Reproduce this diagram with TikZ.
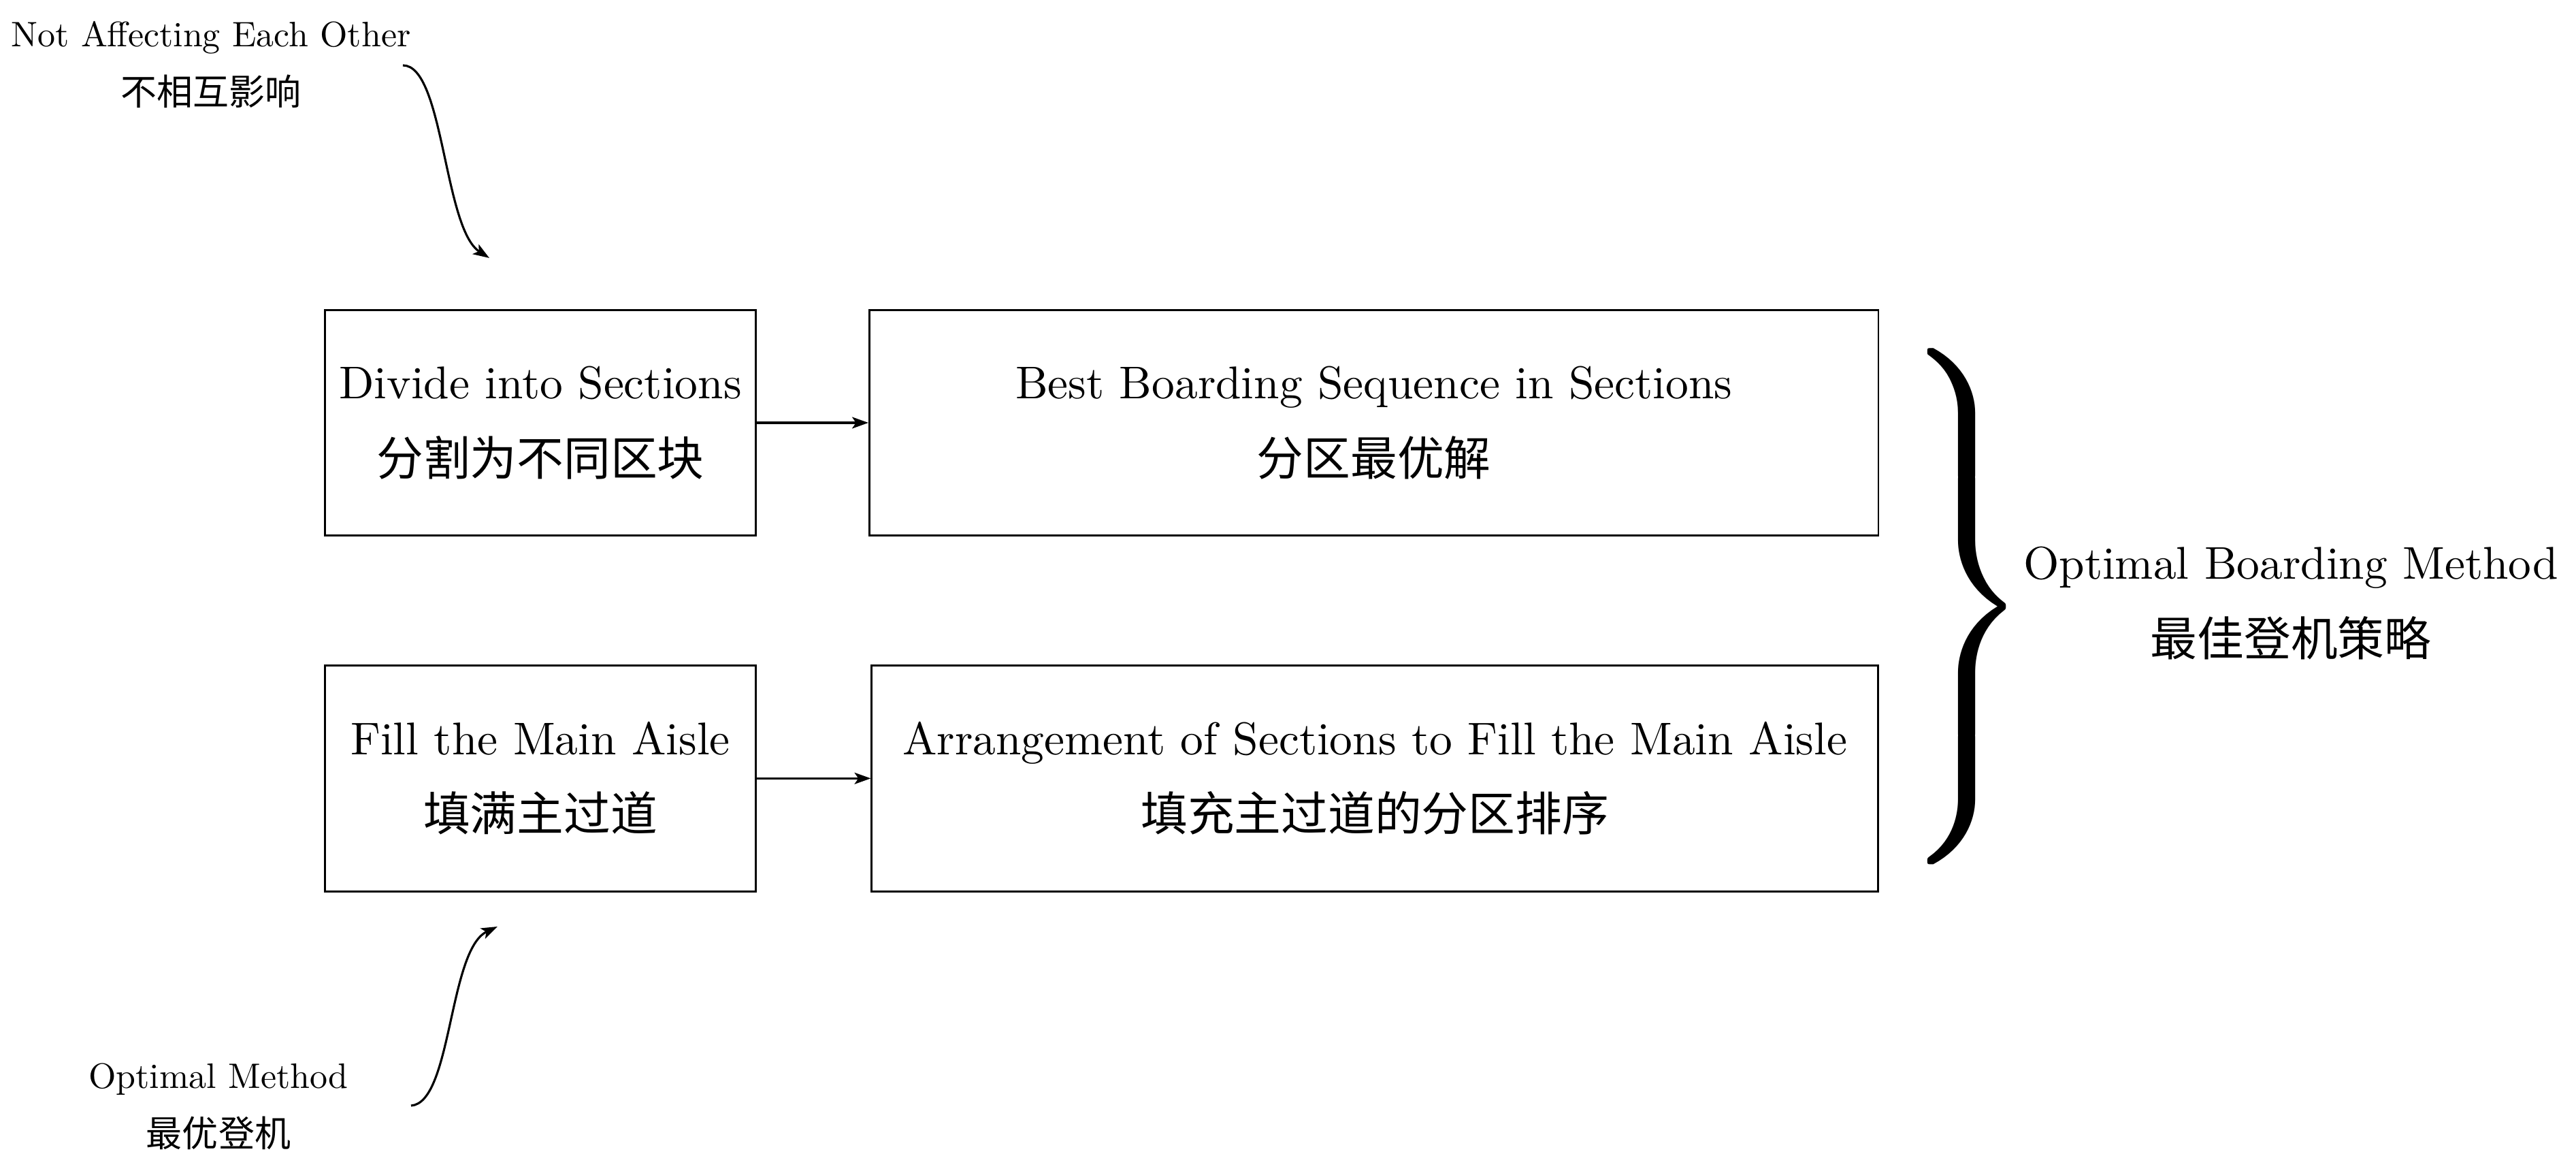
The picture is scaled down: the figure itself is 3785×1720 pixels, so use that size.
\documentclass[tikz,border=0pt]{standalone}
\usepackage{fontspec}
\usepackage{tikz}
\usetikzlibrary{arrows.meta,positioning}
\newfontfamily\cjk[Scale=1.02]{Noto Sans CJK SC}

\begin{document}
\begin{tikzpicture}[x=0.005cm, y=-0.005cm, node distance=0.82cm,
    every node/.style={font=\fontsize{9.6}{16}\selectfont},
    box/.style={draw,align=center,minimum height=1.66cm,inner sep=3pt},
    note/.style={align=center,scale=0.74,font=\fontsize{10}{16.6}\selectfont},
    arr/.style={-{Stealth[length=3.4pt,width=2.4pt,inset=0.8pt]},line width=0.45pt}]
  \useasboundingbox (0,0) rectangle (3785,1720);
  \node[box,minimum width=3.165cm] (divide) at (794,621) {Divide into Sections\\{\cjk 分割为不同区块}};
  \node[box,minimum width=7.42cm,right=0.82cm of divide] (best) {Best Boarding Sequence in Sections\\{\cjk 分区最优解}};
  \node[box,minimum width=3.165cm,below=0.94cm of divide] (fill) {Fill the Main Aisle\\{\cjk 填满主过道}};
  \node[box,minimum width=7.40cm,right=0.84cm of fill] (arrange) {Arrangement of Sections to Fill the Main Aisle\\{\cjk 填充主过道的分区排序}};
  \foreach \a/\b in {divide/best,fill/arrange} \draw[arr] (\a)--(\b);
  % brace and result
  \node[scale=3,inner sep=0pt] (brace) at (2877,891) {$\left.\vrule height 20.5pt depth 15.5pt width 0pt\right\}$};
  \node[align=center] (method) at (3366,886) {Optimal Boarding Method\\{\cjk 最佳登机策略}};
  % side notes
  \node[note] (notaff) at (310,95) {Not Affecting Each Other\\{\cjk 不相互影响}};
  \node[note] (optm) at (321,1625) {Optimal Method\\{\cjk 最优登机}};
  \coordinate (notaff-out) at (592,96);
  \coordinate (notaff-in) at (719,379);
  \coordinate (optm-out) at (604,1624);
  \coordinate (optm-in) at (731,1361);
  \draw[arr] (notaff-out) .. controls +(60,0) and +(-67,-43) .. (notaff-in);
  \draw[arr] (optm-out) .. controls +(60,-4) and +(-72,34) .. (optm-in);
\end{tikzpicture}
\end{document}
